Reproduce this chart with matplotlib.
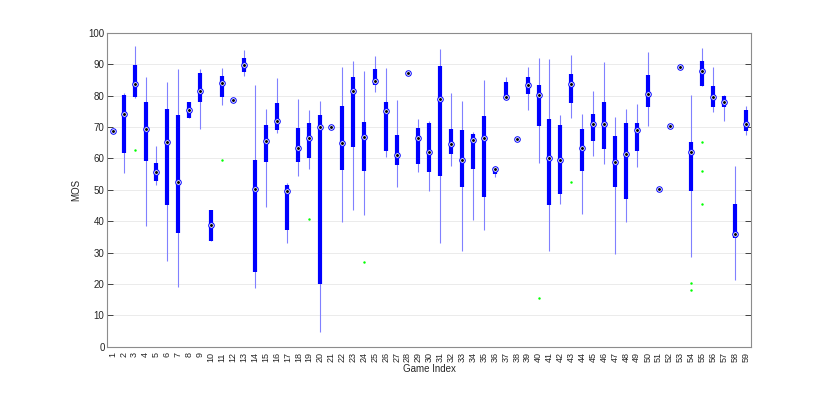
import numpy as np
import matplotlib
matplotlib.use("Agg")
import matplotlib.pyplot as plt

plt.rcParams['font.family'] = ['Liberation Sans', 'DejaVu Sans']

# per-game summary (MOS)
games = list(range(1, 60))
med = [68.6, 74.1, 83.8, 69.5, 55.6, 65.2, 52.4, 75.4, 81.4, 38.7,
       84.0, 78.7, 89.9, 50.2, 65.6, 71.9, 49.6, 63.4, 66.5, 69.9,
       69.9, 65.0, 81.4, 66.8, 84.8, 75.0, 61.2, 87.1, 66.6, 62.1,
       79.0, 64.7, 59.5, 65.8, 66.6, 56.5, 79.7, 66.3, 83.4, 80.2,
       60.0, 59.6, 83.7, 63.4, 70.8, 70.8, 58.8, 61.5, 69.1, 80.4,
       50.2, 70.4, 89.0, 62.0, 87.8, 79.6, 78.0, 36.0, 71.0]
q1 = [68.6, 61.8, 79.5, 59.3, 52.8, 45.2, 36.2, 72.9, 78.1, 33.7,
      79.5, 78.7, 87.4, 23.9, 58.8, 69.0, 37.2, 58.9, 60.2, 19.9,
      69.9, 56.3, 63.6, 56.1, 83.5, 62.5, 58.0, 87.1, 58.3, 55.6,
      54.3, 61.3, 50.9, 56.5, 47.7, 55.1, 78.9, 66.3, 80.4, 70.2,
      45.2, 48.7, 77.7, 55.9, 65.4, 63.0, 50.9, 47.1, 62.5, 76.5,
      50.2, 70.4, 89.0, 49.6, 83.2, 76.3, 76.4, 34.5, 68.8]
q3 = [68.6, 80.3, 89.6, 78.1, 58.6, 75.7, 73.9, 78.1, 87.2, 43.7,
      86.2, 78.7, 91.9, 59.6, 70.7, 77.7, 51.4, 69.6, 71.2, 73.7,
      69.9, 76.6, 86.0, 71.5, 88.6, 78.0, 67.3, 87.1, 69.6, 71.3,
      89.5, 69.4, 68.9, 67.9, 73.5, 56.9, 84.3, 66.3, 86.0, 83.4,
      72.7, 70.5, 86.9, 69.4, 74.2, 78.1, 67.2, 71.3, 71.4, 86.5,
      50.2, 70.4, 89.0, 65.3, 91.1, 82.9, 80.0, 45.6, 75.4]
wlo = [68.6, 55.3, 79.3, 38.4, 51.6, 27.2, 18.9, 72.9, 69.3, 33.7,
       76.9, 78.7, 86.3, 18.6, 44.4, 68.0, 33.1, 54.4, 56.7, 4.7,
       69.9, 39.6, 43.5, 41.9, 81.3, 60.4, 50.9, 87.1, 55.7, 49.7,
       33.1, 57.6, 30.5, 40.3, 37.1, 54.1, 78.9, 66.3, 75.3, 58.5,
       30.6, 45.4, 72.9, 42.3, 60.8, 58.2, 29.6, 39.8, 57.2, 70.2,
       50.2, 70.4, 89.0, 28.7, 83.2, 74.7, 71.9, 21.1, 67.3]
whi = [68.6, 80.7, 95.9, 86.0, 63.9, 84.4, 88.5, 78.1, 88.5, 43.7,
       88.8, 78.7, 94.5, 83.4, 75.6, 85.7, 52.2, 78.9, 75.4, 78.3,
       69.9, 89.0, 91.1, 87.9, 92.7, 88.8, 78.7, 87.1, 72.5, 72.0,
       94.7, 80.7, 78.3, 68.4, 85.0, 57.6, 85.9, 66.3, 89.2, 92.1,
       91.7, 73.7, 93.0, 74.0, 81.6, 90.6, 73.2, 75.8, 77.4, 94.0,
       50.2, 70.4, 89.0, 80.2, 95.1, 89.2, 80.2, 57.5, 76.7]
outliers = {3: [62.6], 11: [59.6], 19: [40.8], 24: [27.0], 40: [15.4],
            43: [52.4], 54: [20.3, 18.0], 55: [65.2, 55.9, 45.6]}
ytick_vals = list(range(0, 101, 10))

fig = plt.figure(figsize=(8.3, 4.04), dpi=100)
ax = fig.add_axes([0.1293, 0.1418, 0.776, 0.777])

x = np.array(games)
# whiskers thin and light, box as a thick line (compact boxplot look)
ax.vlines(x, wlo, whi, color=(0.5, 0.5, 1.0), lw=0.8, zorder=2)
ax.vlines(x, q1, q3, color=(0, 0, 1), lw=3.0, zorder=3)
ax.plot(x, med, 'o', ms=4, mfc='white', mec=(0, 0, 1), mew=0.7, zorder=4)
ax.plot(x, med, '.', ms=2.2, color='black', zorder=5)
for g, vals in outliers.items():
    ax.plot([g] * len(vals), vals, '.', ms=1.5, color=(0, 1, 0), zorder=4)

ax.set_xlim(0.5, 59.5)
ax.set_ylim(0, 100)
ax.set_xticks(games)
ax.set_xticklabels([str(g) for g in games], rotation=90, fontsize=6.5)
ax.set_yticks(ytick_vals)
ax.set_yticklabels([str(v) for v in ytick_vals], fontsize=7)
ax.yaxis.grid(True, color=(0.92, 0.92, 0.92), lw=0.7)
ax.set_axisbelow(True)
ax.tick_params(direction='in', length=4, width=0.6, colors=(0.15, 0.15, 0.15),
               right=True, top=False, pad=2)
ax.tick_params(axis='x', length=0, pad=4)
for s in ax.spines.values():
    s.set_color((0.55, 0.55, 0.55))
    s.set_linewidth(0.8)
ax.set_xlabel('Game Index', fontsize=7, color=(0.15, 0.15, 0.15), labelpad=1)
ax.set_ylabel('MOS', fontsize=7, color=(0.15, 0.15, 0.15), labelpad=5)

fig.savefig('out.png', dpi=100)
